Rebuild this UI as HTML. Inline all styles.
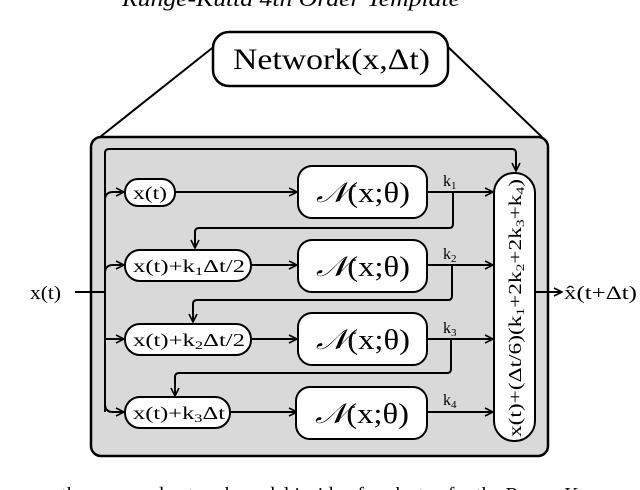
<!DOCTYPE html>
<html><head><meta charset="utf-8"><style>
html,body{margin:0;padding:0;background:#fff;width:640px;height:490px;overflow:hidden}
svg{display:block}
text{font-family:"Liberation Serif","DejaVu Serif",serif;fill:#000}
</style></head><body>
<svg width="640" height="490" viewBox="0 0 640 490" xmlns="http://www.w3.org/2000/svg">
<defs><marker id="a" markerWidth="10" markerHeight="10" refX="9" refY="5" orient="auto" markerUnits="userSpaceOnUse"><path d="M1,1 L9,5 L1,9" fill="none" stroke="#000" stroke-width="1.6"/></marker></defs>
<text x="122" y="6" font-size="22" font-style="italic" textLength="338" lengthAdjust="spacingAndGlyphs">Runge-Kutta 4th Order Template</text>
<line x1="216" y1="45" x2="100" y2="137" stroke="#000" stroke-width="2"/>
<line x1="446" y1="45" x2="542" y2="137" stroke="#000" stroke-width="2"/>
<rect x="91" y="137" width="457" height="319" rx="10" fill="#d9d9d9" stroke="#000" stroke-width="2.5"/>
<line x1="100" y1="137" x2="542" y2="137" stroke="#000" stroke-width="2"/>
<rect x="213" y="32" width="235" height="54" rx="16" fill="#fff" stroke="#000" stroke-width="2.5"/>
<text x="233" y="69" font-size="30" textLength="197" lengthAdjust="spacingAndGlyphs">Network(x,Δt)</text>
<g fill="none" stroke="#000" stroke-width="2">
<path d="M105,412 V153 Q105,149 109,149 H512 Q516,149 516,153 V171" marker-end="url(#a)"/>
<path d="M105,200 Q105,192 113,192 H124" marker-end="url(#a)"/>
<path d="M105,273 Q105,265 113,265 H124" marker-end="url(#a)"/>
<path d="M105,339 H124" marker-end="url(#a)"/>
<path d="M105,404 Q105,412 113,412 H124" marker-end="url(#a)"/>
<path d="M75,292 H105"/>
<path d="M175,192 H297" marker-end="url(#a)"/>
<path d="M251,265 H297" marker-end="url(#a)"/>
<path d="M251,339 H297" marker-end="url(#a)"/>
<path d="M230,412 H297" marker-end="url(#a)"/>
<path d="M427,192 H493" marker-end="url(#a)"/>
<path d="M427,265 H493" marker-end="url(#a)"/>
<path d="M427,339 H493" marker-end="url(#a)"/>
<path d="M427,412 H493" marker-end="url(#a)"/>
<path d="M453,192 V224 Q453,228 449,228 H199 Q195,228 195,232 V248" marker-end="url(#a)"/>
<path d="M452,265 V296 Q452,300 448,300 H197 Q193,300 193,304 V322" marker-end="url(#a)"/>
<path d="M451,339 V369 Q451,373 447,373 H179 Q175,373 175,377 V396" marker-end="url(#a)"/>
<path d="M535,292 H562" marker-end="url(#a)"/>
</g>
<g fill="#fff" stroke="#000" stroke-width="2">
<rect x="125" y="179" width="50" height="27" rx="13"/>
<rect x="125" y="250" width="126" height="31" rx="15"/>
<rect x="125" y="324" width="126" height="31" rx="15"/>
<rect x="125" y="397" width="105" height="31" rx="15"/>
<rect x="298" y="166" width="129" height="52" rx="14"/>
<rect x="298" y="240" width="129" height="52" rx="14"/>
<rect x="298" y="313" width="129" height="52" rx="14"/>
<rect x="296" y="387" width="131" height="52" rx="14"/>
<rect x="494" y="173" width="41" height="268" rx="20"/>
</g>
<text x="133" y="199" font-size="18" textLength="34" lengthAdjust="spacingAndGlyphs">x(t)</text>
<text x="133" y="272" font-size="18" textLength="112" lengthAdjust="spacingAndGlyphs">x(t)+k<tspan font-size="12" dy="3">1</tspan><tspan dy="-3">Δt/2</tspan></text>
<text x="133" y="346" font-size="18" textLength="112" lengthAdjust="spacingAndGlyphs">x(t)+k<tspan font-size="12" dy="3">2</tspan><tspan dy="-3">Δt/2</tspan></text>
<text x="133" y="419" font-size="18" textLength="92" lengthAdjust="spacingAndGlyphs">x(t)+k<tspan font-size="12" dy="3">3</tspan><tspan dy="-3">Δt</tspan></text>
<g font-size="28">
<text x="316" y="202" textLength="94" lengthAdjust="spacingAndGlyphs"><tspan font-style="italic">𝒩</tspan>(x;θ)</text>
<text x="316" y="276" textLength="94" lengthAdjust="spacingAndGlyphs"><tspan font-style="italic">𝒩</tspan>(x;θ)</text>
<text x="316" y="349" textLength="94" lengthAdjust="spacingAndGlyphs"><tspan font-style="italic">𝒩</tspan>(x;θ)</text>
<text x="315" y="423" textLength="94" lengthAdjust="spacingAndGlyphs"><tspan font-style="italic">𝒩</tspan>(x;θ)</text>
</g>
<g font-size="16">
<text x="443" y="186">k<tspan font-size="11" dy="3">1</tspan></text>
<text x="443" y="259">k<tspan font-size="11" dy="3">2</tspan></text>
<text x="443" y="333">k<tspan font-size="11" dy="3">3</tspan></text>
<text x="443" y="405">k<tspan font-size="11" dy="3">4</tspan></text>
</g>
<text transform="translate(521,437) rotate(-90)" font-size="18" textLength="258" lengthAdjust="spacingAndGlyphs">x(t)+(Δt/6)(k<tspan font-size="12" dy="3">1</tspan><tspan dy="-3">+2k</tspan><tspan font-size="12" dy="3">2</tspan><tspan dy="-3">+2k</tspan><tspan font-size="12" dy="3">3</tspan><tspan dy="-3">+k</tspan><tspan font-size="12" dy="3">4</tspan><tspan dy="-3">)</tspan></text>
<text x="30" y="299" font-size="19" textLength="31" lengthAdjust="spacingAndGlyphs">x(t)</text>
<text x="564" y="299" font-size="19" textLength="73" lengthAdjust="spacingAndGlyphs">x̂(t+Δt)</text>
<text x="320" y="501" font-size="20" text-anchor="middle">the proposed network model inside of each step for the Runge-K</text>
</svg>
</body></html>
